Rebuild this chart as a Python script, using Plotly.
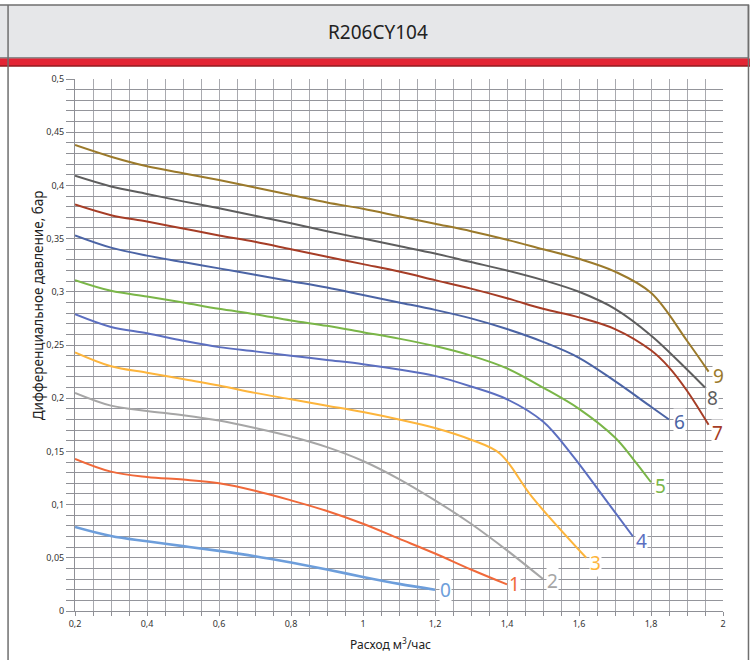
import plotly.graph_objects as go

# ---- data ----
x0 = [0.2, 0.3, 0.4, 0.5, 0.6, 0.7, 0.8, 0.9, 1.0, 1.1, 1.2]
y0 = [0.079, 0.0705, 0.0655, 0.061, 0.0565, 0.0515, 0.0455, 0.039, 0.032, 0.0255, 0.020]

x1 = [0.2, 0.3, 0.4, 0.5, 0.6, 0.7, 0.8, 0.9, 1.0, 1.1, 1.2, 1.3, 1.4]
y1 = [0.143, 0.131, 0.126, 0.1235, 0.120, 0.113, 0.104, 0.094, 0.082, 0.068, 0.054, 0.039, 0.025]

x2 = [0.2, 0.3, 0.4, 0.5, 0.6, 0.7, 0.8, 0.9, 1.0, 1.1, 1.2, 1.3, 1.4, 1.5]
y2 = [0.205, 0.193, 0.188, 0.184, 0.179, 0.172, 0.164, 0.154, 0.141, 0.124, 0.104, 0.082, 0.057, 0.030]

x3 = [0.2, 0.3, 0.4, 0.5, 0.6, 0.7, 0.8, 0.9, 1.0, 1.1, 1.2, 1.3, 1.38, 1.47, 1.62]
y3 = [0.243, 0.230, 0.224, 0.218, 0.212, 0.205, 0.199, 0.193, 0.187, 0.180, 0.172, 0.161, 0.148, 0.107, 0.050]

x4 = [0.2, 0.3, 0.4, 0.5, 0.6, 0.7, 0.8, 0.9, 1.0, 1.1, 1.2, 1.3, 1.4, 1.5, 1.58, 1.66, 1.75]
y4 = [0.279, 0.267, 0.261, 0.254, 0.248, 0.244, 0.240, 0.236, 0.232, 0.227, 0.221, 0.211, 0.199, 0.178, 0.147, 0.111, 0.070]

x5 = [0.2, 0.3, 0.4, 0.5, 0.6, 0.7, 0.8, 0.9, 1.0, 1.1, 1.2, 1.3, 1.4, 1.5, 1.6, 1.7, 1.75, 1.8]
y5 = [0.311, 0.301, 0.2956, 0.290, 0.284, 0.279, 0.273, 0.268, 0.262, 0.256, 0.249, 0.240, 0.228, 0.210, 0.190, 0.163, 0.143, 0.121]

x6 = [0.2, 0.3, 0.4, 0.5, 0.6, 0.7, 0.8, 0.9, 1.0, 1.1, 1.2, 1.3, 1.4, 1.5, 1.6, 1.7, 1.8, 1.85]
y6 = [0.353, 0.3415, 0.334, 0.328, 0.322, 0.316, 0.310, 0.304, 0.297, 0.290, 0.283, 0.275, 0.265, 0.253, 0.238, 0.216, 0.192, 0.180]

x7 = [0.2, 0.3, 0.4, 0.5, 0.6, 0.7, 0.8, 0.9, 1.0, 1.1, 1.2, 1.3, 1.4, 1.5, 1.6, 1.7, 1.8, 1.85, 1.9, 1.96]
y7 = [0.382, 0.372, 0.366, 0.3595, 0.353, 0.347, 0.340, 0.333, 0.326, 0.319, 0.311, 0.303, 0.294, 0.284, 0.276, 0.265, 0.245, 0.229, 0.207, 0.175]

x8 = [0.2, 0.3, 0.4, 0.5, 0.6, 0.7, 0.8, 0.9, 1.0, 1.1, 1.2, 1.3, 1.4, 1.5, 1.6, 1.7, 1.8, 1.9, 1.95]
y8 = [0.409, 0.399, 0.392, 0.385, 0.3785, 0.3715, 0.3645, 0.357, 0.350, 0.343, 0.336, 0.328, 0.320, 0.311, 0.300, 0.284, 0.259, 0.227, 0.210]

x9 = [0.2, 0.3, 0.4, 0.5, 0.6, 0.7, 0.8, 0.9, 1.0, 1.1, 1.2, 1.3, 1.4, 1.5, 1.6, 1.7, 1.8, 1.9, 1.96]
y9 = [0.438, 0.427, 0.418, 0.4115, 0.405, 0.398, 0.391, 0.384, 0.378, 0.371, 0.364, 0.357, 0.349, 0.340, 0.331, 0.319, 0.299, 0.254, 0.225]

curve_names = ["0", "1", "2", "3", "4", "5", "6", "7", "8", "9"]
xs = [x0, x1, x2, x3, x4, x5, x6, x7, x8, x9]
ys = [y0, y1, y2, y3, y4, y5, y6, y7, y8, y9]

x_tickvals = [0.2, 0.4, 0.6, 0.8, 1.0, 1.2, 1.4, 1.6, 1.8, 2.0]
x_ticktext = ["0,2", "0,4", "0,6", "0,8", "1", "1,2", "1,4", "1,6", "1,8", "2"]
y_tickvals = [0, 0.05, 0.1, 0.15, 0.2, 0.25, 0.3, 0.35, 0.4, 0.45, 0.5]
y_ticktext = ["0", "0,05", "0,1", "0,15", "0,2", "0,25", "0,3", "0,35", "0,4", "0,45", "0,5"]

title_text = "R206CY104"
x_title = "Расход м<sup>3</sup>/час"
y_title = "Дифференциальное давление, бар"

# ---- styles ----
colors = ["#6d9edb", "#f0693a", "#a6a6a6", "#fdb53c", "#5c6fc0",
          "#7ab648", "#4b64a5", "#a63d26", "#5e5e5e", "#9b7a2b"]
widths = [2.6, 2, 2, 2, 2, 2, 2, 2, 2, 2]
label_shift = [(10, 0), (7, 0), (9, -2), (9, -5), (8, -4),
               (9, -4), (10, -3), (9, -8), (7, -10), (10, -4)]

W, H = 750, 660
L, R, T, B = 74.5, 27, 79, 48.5
pw, ph = W - L - R, H - T - B


def px(xp):
    return (xp - L) / pw


def py(yp):
    return (H - B - yp) / ph


FONT = "Noto Sans"

fig = go.Figure()
for name, xv, yv, c, w in zip(curve_names, xs, ys, colors, widths):
    fig.add_trace(go.Scatter(x=xv, y=yv, mode="lines", name=name,
                             line=dict(color=c, width=w, shape="spline", smoothing=1.0),
                             hoverinfo="skip", showlegend=False))

annotations = []
for name, xv, yv, c, (dx, dy) in zip(curve_names, xs, ys, colors, label_shift):
    annotations.append(dict(x=xv[-1], y=yv[-1], xref="x", yref="y", text=name,
                            showarrow=False, xanchor="center", yanchor="middle",
                            xshift=dx, yshift=dy, bgcolor="white", borderpad=0,
                            font=dict(family=FONT, size=19, color=c)))

annotations.append(dict(x=px(378), y=py(32), xref="paper", yref="paper", text=title_text,
                        showarrow=False, xanchor="center", yanchor="middle",
                        font=dict(family=FONT, size=19, color="#222222")))
annotations.append(dict(x=px(390), y=py(645), xref="paper", yref="paper", text=x_title,
                        showarrow=False, xanchor="center", yanchor="middle",
                        font=dict(family=FONT, size=12, color="#222222")))
annotations.append(dict(x=px(37), y=py(306), xref="paper", yref="paper", text=y_title,
                        showarrow=False, xanchor="center", yanchor="middle", textangle=-90,
                        font=dict(family=FONT, size=13.5, color="#222222")))

shapes = [
    # header box
    dict(type="rect", xref="paper", yref="paper", x0=px(-2), x1=px(748.5), y0=py(58), y1=py(5),
         fillcolor="#e6e7e9", line=dict(color="#6f6f6f", width=1.5), layer="below"),
    # red bar
    dict(type="rect", xref="paper", yref="paper", x0=px(-2), x1=px(752), y0=py(66.5), y1=py(58.5),
         fillcolor="#e32434", line=dict(width=0), layer="above"),
    dict(type="line", xref="paper", yref="paper", x0=px(-2), x1=px(752), y0=py(66), y1=py(66),
         line=dict(color="#6a1616", width=1.2), layer="above"),
    # left & right frame lines
    dict(type="line", xref="paper", yref="paper", x0=px(7.5), x1=px(7.5), y0=py(5), y1=py(662),
         line=dict(color="#6f6f6f", width=1.5), layer="above"),
    dict(type="line", xref="paper", yref="paper", x0=px(748.5), x1=px(748.5), y0=py(5), y1=py(662),
         line=dict(color="#6f6f6f", width=1.5), layer="above"),
]

fig.update_layout(
    width=W, height=H,
    margin=dict(l=L, r=R, t=T, b=B, pad=0),
    paper_bgcolor="white", plot_bgcolor="white",
    font=dict(family=FONT, size=9, color="#333333"),
    annotations=annotations, shapes=shapes,
    xaxis=dict(range=[0.2, 2.0], tickmode="array", tickvals=x_tickvals, ticktext=x_ticktext,
               showgrid=True, gridcolor="#a9aaaf", gridwidth=1.3,
               ticks="outside", ticklen=4, tickcolor="#8f9096", tickwidth=1,
               minor=dict(dtick=0.05, tick0=0.2, showgrid=True, gridcolor="#a9aaaf", gridwidth=1.3,
                          ticks="outside", ticklen=4, tickcolor="#8f9096"),
               showline=True, linecolor="#8f9096", linewidth=1, mirror=False,
               zeroline=False, tickfont=dict(size=9, color="#333333"), fixedrange=True),
    yaxis=dict(range=[0, 0.5], tickmode="array", tickvals=y_tickvals, ticktext=y_ticktext,
               showgrid=True, gridcolor="#94959b", gridwidth=1.1,
               ticks="outside", ticklen=8, tickcolor="#8f9096", tickwidth=1,
               minor=dict(dtick=0.01, tick0=0, showgrid=True, gridcolor="#94959b", gridwidth=1.1,
                          ticks="outside", ticklen=8, tickcolor="#8f9096"),
               showline=True, linecolor="#8f9096", linewidth=1,
               zeroline=False, tickfont=dict(size=9, color="#333333"), fixedrange=True),
)

fig.write_html("out.html", config={"displayModeBar": False},
               post_script="document.body.style.margin='0';document.documentElement.style.overflow='hidden';")
